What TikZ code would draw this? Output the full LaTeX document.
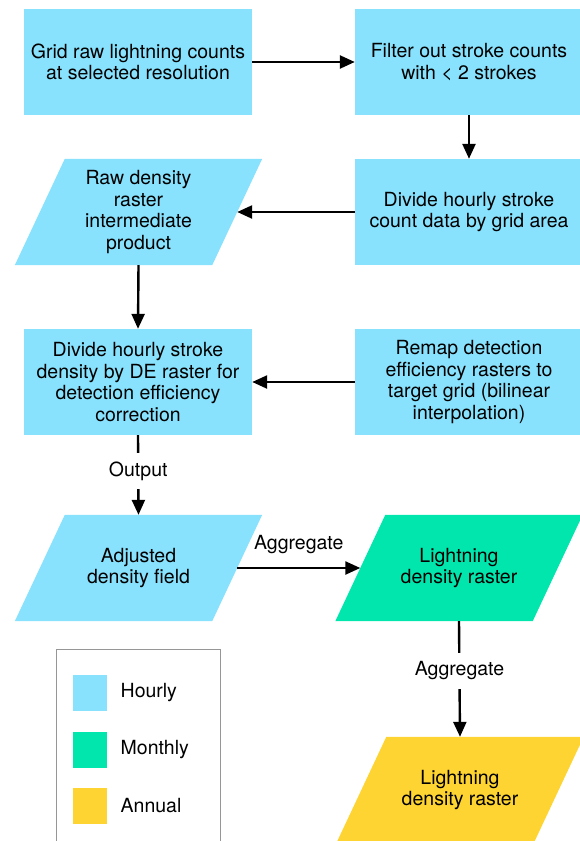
\documentclass[tikz,border=0pt]{standalone}
\usepackage{fontspec}
\setmainfont{TeX Gyre Heros}
\usetikzlibrary{arrows.meta}
\definecolor{hourly}{RGB}{136,226,253}
\definecolor{monthly}{RGB}{0,230,173}
\definecolor{annual}{RGB}{254,212,50}
\definecolor{legendgray}{RGB}{150,150,150}
\pgfdeclarelayer{background}
\pgfsetlayers{background,main}
\tikzset{
  procbox/.style={rectangle, fill=hourly, minimum width=228pt, minimum height=106pt, align=center, inner sep=0pt},
  databox/.style={rectangle, minimum width=197pt, minimum height=106pt, align=center, inner sep=0pt},
  conn/.style={line width=2.4pt, -{Triangle[length=15pt,width=13pt]}},
  lbl/.style={fill=white, inner xsep=2pt, inner ysep=9pt},
  swatch/.style={rectangle, minimum width=34pt, minimum height=36pt, inner sep=0pt},
  legtext/.style={anchor=west, inner sep=0pt}
}
\newcommand{\paraFill}[2]{%
  \begin{pgfonlayer}{background}
    \fill[#2] ([xshift=-25pt]#1.south west) -- ([xshift=25pt]#1.north west) -- ([xshift=25pt]#1.north east) -- ([xshift=-25pt]#1.south east) -- cycle;
  \end{pgfonlayer}}
\begin{document}
\begin{tikzpicture}[x=1pt, y=-1pt, font=\fontsize{19.5}{21.7}\selectfont]
\useasboundingbox (0,0) rectangle (579,841);
% process boxes
\node[procbox] (A) at (138,62) {Grid raw lightning counts\\at selected resolution};
\node[procbox] (B) at (469,62) {Filter out stroke counts\\with \textless{} 2 strokes};
\node[procbox] (C) at (469,212) {Divide hourly stroke\\count data by grid area};
\node[procbox] (E) at (138,382) {Divide hourly stroke\\density by DE raster for\\detection efficiency\\correction};
\node[procbox] (F) at (469,382) {Remap detection\\efficiency rasters to\\target grid (bilinear\\interpolation)};
% data (parallelogram) nodes
\node[databox] (D) at (138.5,212) {Raw density\\raster\\intermediate\\product};
\paraFill{D}{hourly}
\node[databox] (G) at (138.5,568) {Adjusted\\density field};
\paraFill{G}{hourly}
\node[databox] (H) at (459,568) {Lightning\\density raster};
\paraFill{H}{monthly}
\node[databox] (I) at (460,790) {Lightning\\density raster};
\paraFill{I}{annual}
% connectors
\draw[conn] (A.east) -- (B.west);
\draw[conn] (B.south) -- (C.north);
\draw[conn] (C.west) -- (D.east);
\draw[conn] (D.south) -- (E.north);
\draw[conn] (F.west) -- (E.east);
\draw[conn] (E.south) -- node[lbl, yshift=4pt] (out) {Output} (G.north);
\draw[conn] (G.east) -- node[above=13pt, inner sep=0pt] (agg1) {Aggregate} (H.west);
\draw[conn] (H.south) -- node[lbl, yshift=8pt] (agg2) {Aggregate} (I.north);
% legend
\draw[legendgray, line width=1pt] (56.5,649) rectangle (220,870);
\node[swatch, fill=hourly] (s1) at (90.3,693) {};
\node[swatch, fill=monthly] (s2) at (90.3,750) {};
\node[swatch, fill=annual] (s3) at (90.3,806) {};
\node[legtext] (l1) at (120.5,693) {Hourly};
\node[legtext] (l2) at (120.5,750) {Monthly};
\node[legtext] (l3) at (120.5,806) {Annual};
\end{tikzpicture}
\end{document}
